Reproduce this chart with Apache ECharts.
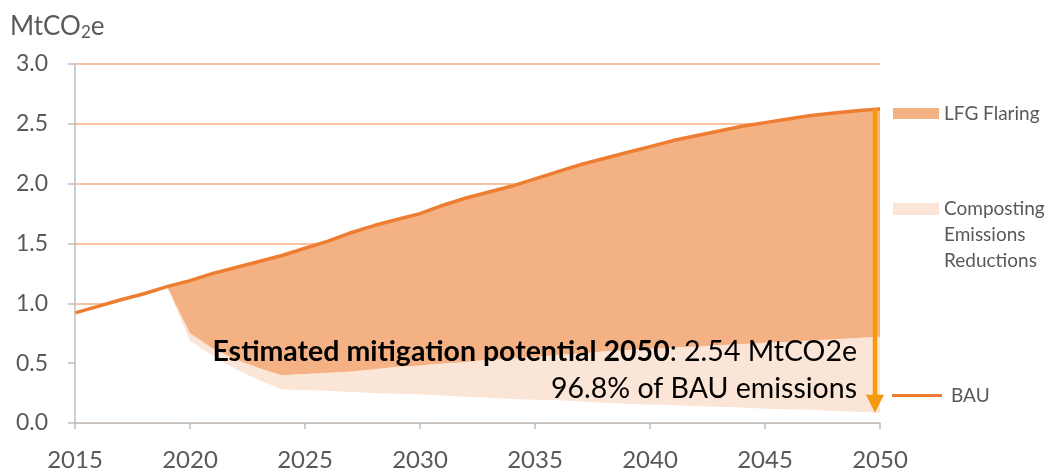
<!DOCTYPE html>
<html>
<head>
<meta charset="utf-8">
<script src="https://cdn.jsdelivr.net/npm/echarts@6/dist/echarts.min.js"></script>
<style>
  html, body { margin: 0; padding: 0; background: #ffffff; }
  #chart { width: 1051px; height: 472px; }
</style>
</head>
<body>
<div id="chart"></div>
<script>
// Years on the horizontal axis
const years = ['2015','2016','2017','2018','2019','2020','2021','2022','2023','2024',
               '2025','2026','2027','2028','2029','2030','2031','2032','2033','2034',
               '2035','2036','2037','2038','2039','2040','2041','2042','2043','2044',
               '2045','2046','2047','2048','2049','2050'];

// Business-as-usual emissions (MtCO2e)
const bau = [0.92, 0.975, 1.03, 1.08, 1.14, 1.19, 1.25, 1.30, 1.35, 1.40,
             1.46, 1.52, 1.59, 1.65, 1.70, 1.75, 1.82, 1.88, 1.93, 1.98,
             2.04, 2.10, 2.16, 2.21, 2.26, 2.31, 2.36, 2.40, 2.44, 2.48,
             2.51, 2.54, 2.57, 2.59, 2.61, 2.625];

// Emissions left after both measures (stack base; equals BAU before 2019)
const remaining = [0.92, 0.975, 1.03, 1.08, 1.14, 0.69, 0.56, 0.45, 0.36, 0.28,
                   0.275, 0.27, 0.26, 0.25, 0.245, 0.24, 0.23, 0.22, 0.21, 0.20,
                   0.195, 0.19, 0.18, 0.17, 0.16, 0.155, 0.15, 0.14, 0.135, 0.13,
                   0.12, 0.115, 0.11, 0.10, 0.095, 0.085];

// Composting emissions reductions
const composting = ['-', '-', '-', '-', 0, 0.06, 0.06, 0.08, 0.10, 0.12,
                    0.135, 0.15, 0.17, 0.20, 0.225, 0.24, 0.27, 0.29, 0.32, 0.34,
                    0.355, 0.38, 0.40, 0.43, 0.45, 0.465, 0.48, 0.50, 0.515, 0.53,
                    0.55, 0.565, 0.58, 0.60, 0.615, 0.635];

// Landfill gas flaring reductions
const lfgFlaring = ['-', '-', '-', '-', 0, 0.44, 0.63, 0.77, 0.89, 1.00,
                    1.05, 1.10, 1.16, 1.20, 1.23, 1.27, 1.32, 1.37, 1.40, 1.44,
                    1.49, 1.53, 1.58, 1.61, 1.65, 1.69, 1.73, 1.76, 1.79, 1.82,
                    1.84, 1.86, 1.88, 1.89, 1.90, 1.905];

const yTicks = [0, 0.5, 1.0, 1.5, 2.0, 2.5, 3.0];

const FONT = 'Lato, "Noto Sans", sans-serif';
const GREY_TEXT = '#595959';
const AXIS_GREY = '#BFBFBF';
const BAU_COLOR = '#ED7D31';
const LFG_COLOR = '#F4B183';
const COMPOST_COLOR = '#FBE5D6';
const ARROW_COLOR = '#F59A0C';
const COMPOST_NAME = 'Composting\nEmissions\nReductions';

const chart = echarts.init(document.getElementById('chart'), null, { renderer: 'canvas' });

const legendText = { fontFamily: FONT, fontSize: 19, color: GREY_TEXT };

const option = {
  backgroundColor: '#ffffff',
  animation: false,
  grid: { left: 75, right: 171, top: 64, bottom: 47, containLabel: false },
  legend: [
    {
      data: [{ name: 'LFG Flaring', icon: 'rect' }],
      left: 893, top: 104, padding: 0,
      itemWidth: 46, itemHeight: 11, itemGap: 0,
      selectedMode: false,
      textStyle: legendText
    },
    {
      data: [{ name: COMPOST_NAME, icon: 'rect' }],
      left: 893, top: 144, padding: 0,
      itemWidth: 46, itemHeight: 12, itemGap: 0,
      selectedMode: false,
      // two leading blank lines keep the swatch level with the first word
      formatter: name => '\n\n' + name,
      textStyle: Object.assign({ lineHeight: 26 }, legendText)
    },
    {
      data: [{ name: 'BAU', icon: 'rect' }],
      left: 892, top: 386, padding: 0,
      itemWidth: 50, itemHeight: 3, itemGap: 0,
      selectedMode: false,
      textStyle: Object.assign({ padding: [0, 0, 0, 4] }, legendText)
    }
  ],
  xAxis: {
    type: 'category',
    data: years,
    boundaryGap: false,
    z: 10,
    axisLine: { show: true, lineStyle: { color: AXIS_GREY, width: 1.5 } },
    axisTick: { show: true, interval: 4, length: 6, lineStyle: { color: AXIS_GREY, width: 1.5 } },
    axisLabel: { interval: 4, margin: 25, fontFamily: FONT, fontSize: 24, color: GREY_TEXT },
    splitLine: { show: false }
  },
  yAxis: [
    {
      // gridlines only, drawn beneath the series
      type: 'value',
      min: 0, max: 3, interval: 0.5,
      axisLine: { show: false },
      axisTick: { show: false },
      axisLabel: { show: false },
      splitLine: { show: true, lineStyle: { color: LFG_COLOR, width: 1.5 } }
    },
    {
      // axis line, ticks and labels, drawn above the series
      type: 'value',
      position: 'left',
      min: 0, max: 3, interval: 0.5,
      z: 10,
      axisLine: { show: true, lineStyle: { color: AXIS_GREY, width: 1.5 } },
      axisTick: { show: true, length: 7, lineStyle: { color: AXIS_GREY, width: 1.5 } },
      axisLabel: {
        margin: 27, fontFamily: FONT, fontSize: 23, color: GREY_TEXT,
        formatter: v => yTicks.indexOf(v) >= 0 ? v.toFixed(1) : ''
      },
      splitLine: { show: false }
    }
  ],
  series: [
    {
      name: 'Remaining emissions',
      type: 'line',
      stack: 'mitigation',
      data: remaining,
      symbol: 'none',
      lineStyle: { width: 0, opacity: 0 },
      // white fill keeps the gridlines hidden beneath the emissions curve
      areaStyle: { color: '#ffffff', opacity: 1 },
      silent: true,
      z: 2
    },
    {
      name: COMPOST_NAME,
      type: 'line',
      stack: 'mitigation',
      data: composting,
      symbol: 'none',
      color: COMPOST_COLOR,
      lineStyle: { width: 0, opacity: 0 },
      areaStyle: { color: COMPOST_COLOR, opacity: 1 },
      z: 2
    },
    {
      name: 'LFG Flaring',
      type: 'line',
      stack: 'mitigation',
      data: lfgFlaring,
      symbol: 'none',
      color: LFG_COLOR,
      lineStyle: { width: 0, opacity: 0 },
      areaStyle: { color: LFG_COLOR, opacity: 1 },
      z: 3
    },
    {
      name: 'BAU',
      type: 'line',
      data: bau,
      symbol: 'none',
      color: BAU_COLOR,
      lineStyle: { color: BAU_COLOR, width: 3.5 },
      z: 5
    }
  ]
};

chart.setOption(option);

// Unit label above the value axis, vertical arrow and summary text for 2050
function drawOverlay() {
  const last = years.length - 1;
  const top = chart.convertToPixel({ gridIndex: 0 }, [years[last], bau[last]]);
  const bottom = chart.convertToPixel({ gridIndex: 0 }, [years[last], remaining[last]]);
  const ax = top[0] - 5;
  const headH = 18, headW = 18;
  const mitigated = composting[last] + lfgFlaring[last];
  const share = (mitigated / bau[last] * 100).toFixed(1);

  chart.setOption({
    graphic: [
      {
        type: 'text', left: 10, top: 14, z: 10,
        style: {
          text: 'MtCO{sub|2}e',
          fontFamily: FONT, fontSize: 26, fill: GREY_TEXT,
          rich: { sub: { fontFamily: FONT, fontSize: 17, fill: GREY_TEXT, verticalAlign: 'bottom', padding: [12, 0, 0, 0] } }
        }
      },
      {
        type: 'line', z: 10,
        shape: { x1: ax, y1: top[1], x2: ax, y2: bottom[1] - headH + 2 },
        style: { stroke: ARROW_COLOR, lineWidth: 4.5 }
      },
      {
        type: 'polygon', z: 10,
        shape: { points: [[ax - headW / 2, bottom[1] - headH], [ax + headW / 2, bottom[1] - headH], [ax, bottom[1]]] },
        style: { fill: ARROW_COLOR }
      },
      {
        type: 'text', z: 11,
        x: ax - 18, y: 352,
        style: {
          text: '{b|Estimated mitigation potential 2050}: ' + mitigated.toFixed(2) + ' MtCO2e',
          align: 'right', verticalAlign: 'middle',
          fontFamily: FONT, fontSize: 28.5, fill: '#000000',
          rich: { b: { fontFamily: FONT, fontSize: 28.5, fontWeight: 'bold', fill: '#000000' } }
        }
      },
      {
        type: 'text', z: 11,
        x: ax - 18, y: 389,
        style: {
          text: share + '% of BAU emissions',
          align: 'right', verticalAlign: 'middle',
          fontFamily: FONT, fontSize: 28.5, fill: '#000000'
        }
      }
    ]
  });
}
drawOverlay();
</script>
</body>
</html>
